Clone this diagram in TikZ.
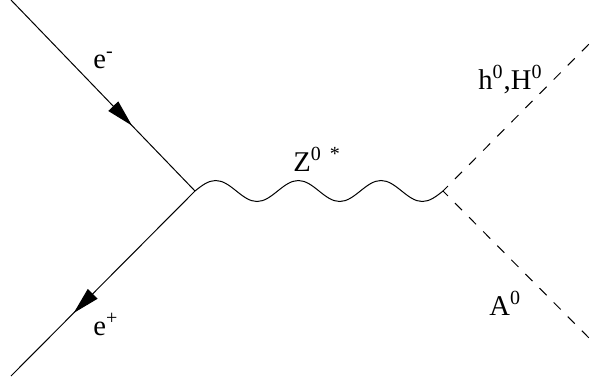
\documentclass[tikz,border=0pt]{standalone}
\usepackage{fontspec}
\setmainfont{Liberation Serif}
\usetikzlibrary{decorations.markings,arrows.meta}
\tikzset{
  fermion/.style={line width=0.5pt, postaction={decorate},
    decoration={markings, mark=at position 0.66 with {\arrow{Triangle[length=13.5pt,width=6.8pt]}}}},
  boson/.style={line width=0.5pt},
  scalar/.style={line width=0.5pt, dash pattern=on 5pt off 5pt, dash phase=1.5pt},
  partname/.style={inner sep=0pt, anchor=base west, font=\fontsize{14.3}{17}\selectfont}
}

\begin{document}
\begin{tikzpicture}[x=0.5pt,y=-0.5pt]
  \useasboundingbox (0,0) rectangle (602,381);
  % vertices and outer ends
  \coordinate (vee) at (195,191);
  \coordinate (vhA) at (443,191);
  \coordinate (ein) at (11,0);
  \coordinate (pin) at (11,376);
  \coordinate (hout) at (594,39);
  \coordinate (aout) at (594,343);

  \draw[fermion] (ein) -- (vee);
  \draw[fermion] (vee) -- (pin);
  % three full waves from vee to vhA
  \draw[boson] (vee) \foreach \w in {1,2,3} {
    sin ++(20.667,-10.5) cos ++(20.667,10.5) sin ++(20.667,10.5) cos ++(20.667,-10.5)};
  \draw[scalar] (vhA) -- (hout);
  \draw[scalar] (vhA) -- (aout);

  \node[partname] (eminus) at (93,68) {e\textsuperscript{-}};
  \node[partname] (eplus) at (93,335) {e\textsuperscript{+}};
  \node[partname] (zstar) at (293,171) {Z\textsuperscript{0\hspace{0.45em}*}};
  \node[partname] (hH) at (478,89) {h\textsuperscript{0},H\textsuperscript{0}};
  \node[partname] (azero) at (489,315) {A\textsuperscript{0}};
\end{tikzpicture}
\end{document}
